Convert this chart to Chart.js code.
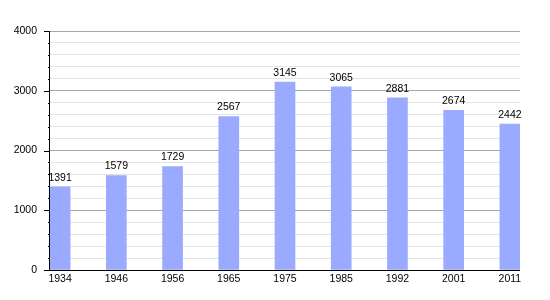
<!DOCTYPE html>
<html>
<head>
<meta charset="utf-8">
<script src="https://cdn.jsdelivr.net/npm/chart.js@4/dist/chart.umd.min.js"></script>
<style>
  html, body { margin: 0; padding: 0; background: #ffffff; }
  #wrap { width: 550px; height: 300px; }
</style>
</head>
<body>
<div id="wrap"><canvas id="chart"></canvas></div>
<script>
//census years and population
const years = ["1934", "1946", "1956", "1965", "1975", "1985", "1992", "2001", "2011"];
const population = [1391, 1579, 1729, 2567, 3145, 3065, 2881, 2674, 2442];
//y axis labels every 1000, minor lines every 200
const yMax = 4000;
const yMinorStep = 200;
const yMajorStep = 1000;

const font = { family: "'Liberation Sans', Arial, sans-serif", size: 10.5 };

//draw the values above the bars
const valueLabels = {
  id: "valueLabels",
  afterDatasetsDraw(chart) {
    const ctx = chart.ctx;
    const meta = chart.getDatasetMeta(0);
    ctx.save();
    ctx.font = font.size + "px " + font.family;
    ctx.fillStyle = "#000000";
    ctx.textAlign = "center";
    ctx.textBaseline = "bottom";
    meta.data.forEach((bar, i) => {
      ctx.fillText(String(population[i]), bar.x, bar.y - 4);
    });
    ctx.restore();
  },
};

//axis lines and small tick marks
const axisMarks = {
  id: "axisMarks",
  afterDraw(chart) {
    const ctx = chart.ctx;
    const area = chart.chartArea;
    const y = chart.scales.y;
    ctx.save();
    ctx.strokeStyle = "#000000";
    ctx.lineWidth = 1;
    ctx.beginPath();
    for (let v = 0; v <= yMax; v += yMinorStep) {
      const py = Math.round(y.getPixelForValue(v)) + 0.5;
      const len = v % yMajorStep === 0 ? 6 : 2;
      ctx.moveTo(area.left - len, py);
      ctx.lineTo(area.left, py);
    }
    ctx.moveTo(area.left - 0.5, area.top);
    ctx.lineTo(area.left - 0.5, area.bottom + 1);
    ctx.moveTo(area.left - 1, area.bottom + 0.5);
    ctx.lineTo(area.right, area.bottom + 0.5);
    ctx.stroke();
    ctx.restore();
  },
};

new Chart(document.getElementById("chart"), {
  type: "bar",
  plugins: [valueLabels, axisMarks],
  data: {
    datasets: [
      {
        data: population.map((v, i) => ({ x: i, y: v })),
        backgroundColor: "#99aaff",
        barThickness: 20,
      },
    ],
  },
  options: {
    responsive: true,
    maintainAspectRatio: false,
    animation: false,
    layout: { padding: { top: 31, right: 30, left: 0, bottom: 0 } },
    plugins: { legend: { display: false }, tooltip: { enabled: false } },
    scales: {
      x: {
        type: "linear",
        offset: false,
        min: -0.18,
        max: 8.18,
        afterBuildTicks: (s) => {
          s.ticks = years.map((_, i) => ({ value: i }));
        },
        afterFit: (s) => {
          s.height = 30;
        },
        grid: { display: false, drawTicks: false },
        border: { display: false },
        ticks: {
          color: "#000000",
          font: font,
          padding: 3,
          maxRotation: 0,
          autoSkip: false,
          callback: (v) => years[v],
        },
      },
      y: {
        min: 0,
        max: yMax,
        afterFit: (s) => {
          s.width = 50;
        },
        border: { display: false },
        grid: {
          drawTicks: false,
          color: (c) => (c.tick && c.tick.value % yMajorStep === 0 ? "#a8a8a8" : "#e4e4e4"),
        },
        ticks: {
          stepSize: yMinorStep,
          color: "#000000",
          font: font,
          padding: 13,
          autoSkip: false,
          callback: (v) => (v % yMajorStep === 0 ? v : ""),
        },
      },
    },
  },
});
</script>
</body>
</html>
